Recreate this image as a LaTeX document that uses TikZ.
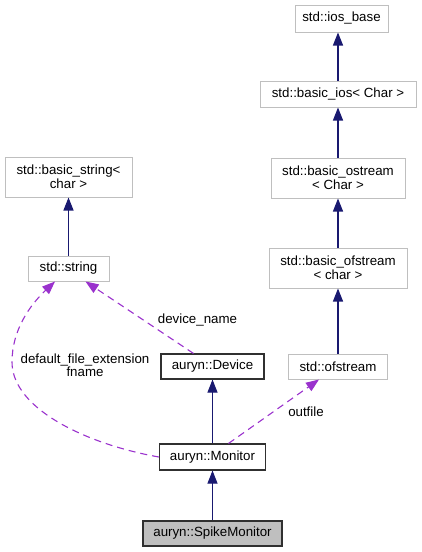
\documentclass[tikz,border=0pt]{standalone}
\usepackage{fontspec}
\setmainfont{Liberation Sans}
\usetikzlibrary{arrows.meta}
\definecolor{extgray}{HTML}{BFBFBF}
\definecolor{navyarr}{RGB}{25,25,112}
\definecolor{purparr}{HTML}{9A32CD}
\definecolor{docbd}{HTML}{303030}
\begin{document}
\begin{tikzpicture}[x=1pt,y=-1pt,
  every node/.style={font=\fontsize{13.3}{14}\selectfont, inner sep=0pt, align=center},
  ext/.style={draw=extgray, line width=1pt, fill=white},
  doc/.style={draw=docbd, line width=1.1pt, fill=white},
  cur/.style={draw=docbd, line width=1.1pt, fill=extgray},
  inh/.style={draw=navyarr, line width=1.1pt, -{Triangle[length=13pt,width=10pt]}},
  usage/.style={draw=purparr, line width=1.1pt, dash pattern=on 7pt off 5pt, -{Triangle[length=13pt,width=10pt]}},
  lbl/.style={font=\fontsize{13.3}{13}\selectfont}
]
\useasboundingbox (0,0) rectangle (421,552);
% nodes
\node[ext, minimum width=93, minimum height=27] (iosb) at (341.5,18.5) {std::ios\_base};
\node[ext, minimum width=156, minimum height=26] (bios) at (338,94) {std::basic\_ios< Char >};
\node[ext, minimum width=134, minimum height=40] (bost) at (338,178) {std::basic\_ostream\\< Char >};
\node[ext, minimum width=138, minimum height=40] (bofs) at (338,268) {std::basic\_ofstream\\< char >};
\node[ext, minimum width=99, minimum height=25] (ofs) at (338,366.5) {std::ofstream};
\node[ext, minimum width=127, minimum height=40] (bstr) at (68.5,177) {std::basic\_string<\\char >};
\node[ext, minimum width=81, minimum height=25] (str) at (68.5,268.5) {std::string};
\node[doc, minimum width=103, minimum height=25] (dev) at (212.5,366.5) {auryn::Device};
\node[doc, minimum width=106, minimum height=26] (mon) at (212.5,457) {auryn::Monitor};
\node[cur, minimum width=139, minimum height=25] (spk) at (212.5,533.5) {auryn::SpikeMonitor};
% inheritance
\draw[inh] (bios.north) -- (bios.north |- iosb.south);
\draw[inh] (bost.north) -- (bios.south);
\draw[inh] (bofs.north) -- (bost.south);
\draw[inh] (ofs.north) -- (bofs.south);
\draw[inh] (str.north) -- (bstr.south);
\draw[inh] (mon.north) -- (dev.south);
\draw[inh] (spk.north) -- (mon.south);
% usage
\draw[usage] ([xshift=-19]dev.north) -- ([xshift=17]str.south);
\draw[usage] ([xshift=16]mon.north) -- ([xshift=-19]ofs.south);
\draw[usage] (mon.west) .. controls (90,445) and (12,410) .. (12,362) .. controls (12,330) and (30,305) .. ([xshift=-13.5]str.south);
% labels
\node[lbl] (lbdn) at (197.5,320) {device\_name};
\node[lbl] (lbof) at (306,412) {outfile};
\node[lbl] (lbdf) at (85,365.5) {default\_file\_extension\\fname};
\end{tikzpicture}
\end{document}
